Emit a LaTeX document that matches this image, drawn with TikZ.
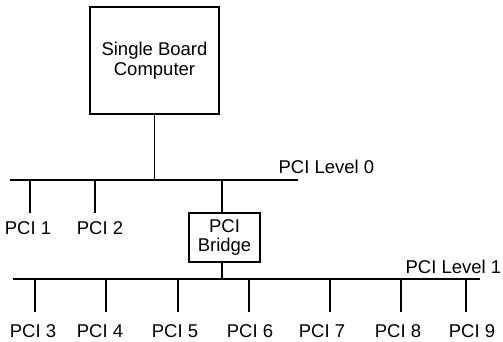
\documentclass[tikz,border=0pt]{standalone}
\usepackage{fontspec}
\setmainfont{Liberation Sans}
\begin{document}
\begin{tikzpicture}[x=1pt,y=-1pt,
  line width=1.3pt,
  lbl/.style={font=\fontsize{18.5}{19}\selectfont, inner xsep=0pt, anchor=base},
  boxnode/.style={draw, font=\fontsize{18.5}{19.5}\selectfont, align=center, inner sep=0pt}]
\useasboundingbox (0,0) rectangle (503,342);
% boxes
\node[boxnode, minimum width=129pt, minimum height=107pt] (sbc) at (154.5,60.5) {Single Board\\Computer};
\node[boxnode, minimum width=71pt, minimum height=49pt] (bridge) at (224.5,237.5) {PCI\\Bridge};
% bus level 0
\coordinate (b0l) at (10,180);
\coordinate (b0r) at (298,180);
\draw (b0l) -- (b0r);
\node[lbl, anchor=base west, inner sep=0pt] (lv0) at (278,173) {PCI Level 0};
\coordinate (s0) at (sbc.south |- b0l);
\draw (sbc.south) -- (s0);
\coordinate (t1) at (30,180);
\coordinate (t2) at (95,180);
\coordinate (tb) at (222,180);
\node[lbl, inner ysep=8pt] (p1) at (28,234.5) {PCI 1};
\node[lbl, inner ysep=8pt] (p2) at (100,234.5) {PCI 2};
\draw (t1) -- (t1 |- p1.north);
\draw (t2) -- (t2 |- p2.north);
\draw (tb) -- (tb |- bridge.north);
% bus level 1
\coordinate (b1l) at (13,279);
\coordinate (b1r) at (480,279);
\draw (b1l) -- (b1r);
\node[lbl, anchor=base west, inner sep=0pt] (lv1) at (405,273.3) {PCI Level 1};
\coordinate (tb1) at (222,279);
\draw (tb1 |- bridge.south) -- (tb1);
\foreach \n/\tx/\lx in {3/35/33, 4/106/100, 5/178/175, 6/249/250, 7/330/322, 8/401/398, 9/466/472} {
  \coordinate (t\n) at (\tx,279);
  \node[lbl, inner ysep=11pt] (p\n) at (\lx,337) {PCI \n};
  \draw (t\n) -- (t\n |- p\n.north);
}
\end{tikzpicture}
\end{document}
